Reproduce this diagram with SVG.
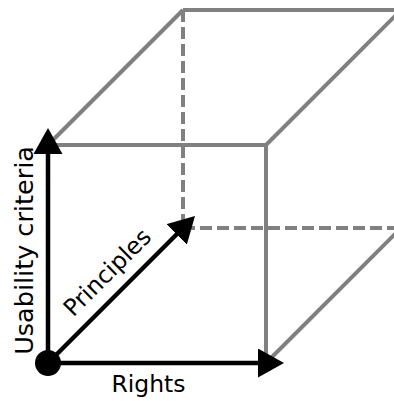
<svg xmlns="http://www.w3.org/2000/svg" width="394" height="401" viewBox="0 0 394 401">
  <style>
    .edge { stroke: #808080; stroke-width: 4; fill: none; }
    .dash { stroke-dasharray: 12 5; }
    .axis { stroke: #000; stroke-width: 4.5; fill: none; marker-end: url(#head); }
    .lbl { font-family: "DejaVu Sans", sans-serif; fill: #000; }
  </style>
  <defs>
    <marker id="head" viewBox="0 0 26 29" refX="2" refY="14.5" markerWidth="26" markerHeight="29" markerUnits="userSpaceOnUse" orient="auto">
      <path d="M0,0 L26,14.5 L0,29 Z" fill="#000"/>
    </marker>
  </defs>
  <g id="cube">
    <line class="edge dash" x1="183" y1="10" x2="183" y2="228"/>
    <line class="edge dash" x1="183" y1="228" x2="401" y2="228"/>
    <line class="edge" x1="183" y1="10" x2="401" y2="10"/>
    <line class="edge" x1="48" y1="145" x2="183" y2="10"/>
    <line class="edge" x1="266" y1="145" x2="401" y2="10"/>
    <line class="edge" x1="266" y1="363" x2="401" y2="228"/>
    <line class="edge" x1="48" y1="145" x2="266" y2="145"/>
    <line class="edge" x1="266" y1="145" x2="266" y2="363"/>
  </g>
  <g id="connectors">
    <line id="axis-usability" class="axis" x1="48" y1="363" x2="48" y2="152"/>
    <line id="axis-rights" class="axis" x1="48" y1="363" x2="260" y2="363"/>
    <line id="axis-principles" class="axis" x1="48" y1="363" x2="178" y2="233"/>
  </g>
  <g id="origin">
    <circle cx="48" cy="363" r="13" fill="#000"/>
  </g>
  <g id="label-usability">
    <text class="lbl" font-size="25.5" text-anchor="middle" transform="translate(33,250.5) rotate(-90)">Usability criteria</text>
  </g>
  <g id="label-rights">
    <text class="lbl" font-size="23.5" text-anchor="middle" x="148.5" y="391.5">Rights</text>
  </g>
  <g id="label-principles">
    <text class="lbl" font-size="23.5" text-anchor="middle" transform="translate(113,278) rotate(-45)">Principles</text>
  </g>
</svg>
